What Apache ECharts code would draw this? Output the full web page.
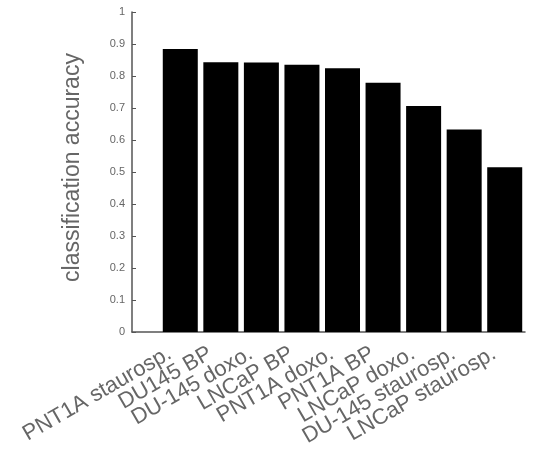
<!DOCTYPE html>
<html>
<head>
<meta charset="utf-8">
<script src="https://cdn.jsdelivr.net/npm/echarts@6/dist/echarts.min.js"></script>
<style>
html,body{margin:0;padding:0;background:#fff;}
#chart{width:533px;height:451px;}
</style>
</head>
<body>
<div id="chart"></div>
<script>
const categories = ["PNT1A staurosp.", "DU145 BP", "DU-145 doxo.", "LNCaP BP", "PNT1A doxo.", "PNT1A BP", "LNCaP doxo.", "DU-145 staurosp.", "LNCaP staurosp."];
const accuracy = [0.884, 0.843, 0.842, 0.835, 0.824, 0.779, 0.706, 0.633, 0.515];
const yTitle = "classification accuracy";

const textColor = "#666";
const lineColor = "#555";
const font = "Liberation Sans";

const chart = echarts.init(document.getElementById('chart'), null, {renderer: 'canvas'});
chart.setOption({
  animation: false,
  backgroundColor: '#fff',
  grid: [
    {left: 160, right: 8, top: 12, bottom: 119, containLabel: false},
    {left: 132, right: 8, top: 12, bottom: 119, containLabel: false}
  ],
  xAxis: [
    {
      type: 'category', gridIndex: 0, data: categories,
      axisLine: {show: false}, axisTick: {show: false},
      axisLabel: {rotate: 30, margin: 14, padding: [0, 12, 0, 0], color: textColor, fontSize: 22, fontFamily: font, interval: 0}
    },
    {
      type: 'value', gridIndex: 1, min: 0, max: 1,
      axisLine: {show: true, lineStyle: {color: lineColor, width: 1.5}},
      axisTick: {show: false}, axisLabel: {show: false}, splitLine: {show: false}
    }
  ],
  yAxis: [
    {
      type: 'value', gridIndex: 0, min: 0, max: 1, interval: 0.1, offset: 28,
      name: yTitle, nameLocation: 'middle', nameGap: 48,
      nameTextStyle: {color: textColor, fontSize: 23, fontFamily: font, padding: [0, 0, 0, 9]},
      axisLine: {show: true, lineStyle: {color: lineColor, width: 1.5}},
      axisTick: {show: true, inside: true, length: 4, lineStyle: {color: lineColor}},
      axisLabel: {color: textColor, fontSize: 11, fontFamily: font, margin: 7},
      splitLine: {show: false}
    },
    {
      type: 'value', gridIndex: 1, min: 0, max: 1, show: false
    }
  ],
  series: [{
    type: 'bar', xAxisIndex: 0, yAxisIndex: 0,
    data: accuracy, barWidth: 35,
    itemStyle: {color: '#000'}
  }]
});
</script>
</body>
</html>
